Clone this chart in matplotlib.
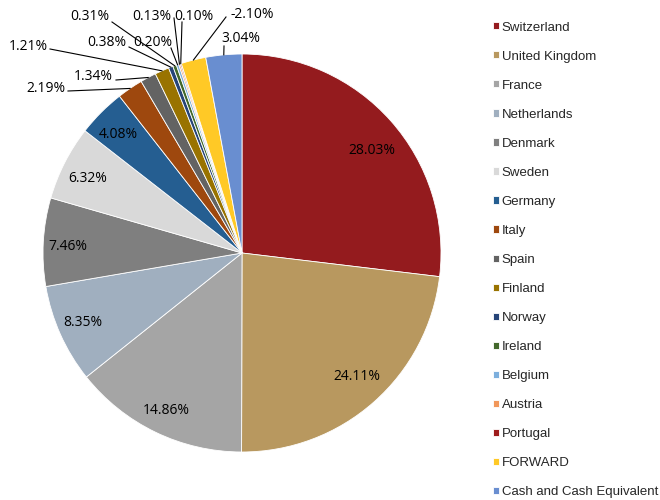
import numpy as np
import matplotlib.pyplot as plt

countries = ['Switzerland', 'United Kingdom', 'France', 'Netherlands', 'Denmark',
             'Sweden', 'Germany', 'Italy', 'Spain', 'Finland', 'Norway', 'Ireland',
             'Belgium', 'Austria', 'Portugal', 'FORWARD', 'Cash and Cash Equivalent']
weights = [28.03, 24.11, 14.86, 8.35, 7.46, 6.32, 4.08, 2.19, 1.34, 1.21,
           0.38, 0.31, 0.20, 0.13, 0.10, -2.10, 3.04]
colors = ['#941B1E', '#B8985F', '#A5A5A5', '#A0AFBF', '#7F7F7F', '#D9D9D9',
          '#255E91', '#9E480E', '#636363', '#997300', '#264478', '#43682B',
          '#7CAFDD', '#F1975A', '#9E1C1C', '#FFC926', '#698ED0']

# where excel put the labels (pixels from top-left), leader start for the small ones
label_pos = [(372, 151), (357, 376), (166, 411), (83, 322), (68, 247), (88, 179),
             (118, 134), (46, 89), (93, 77), (28, 46), (107, 43), (90, 17),
             (153, 43), (152, 17), (194, 16), (252, 14), (241, 38)]
leader_from = {7: (68, 91), 8: (116, 80), 9: (50, 49), 10: (129, 47), 11: (112, 22),
               12: (171, 48), 13: (174, 18), 14: (182, 22), 15: (226, 17), 16: (224, 46)}

W, H = 660, 500
cx, cy, R = 242, 500 - 253, 199

fig = plt.figure(figsize=(6.6, 5), dpi=100)
ax = fig.add_axes([0, 0, 1, 1])

wedges, _ = ax.pie(np.abs(weights), colors=colors, startangle=90, counterclock=False,
                   radius=R, center=(cx, cy),
                   wedgeprops=dict(edgecolor='white', linewidth=0.6))
ax.set_xlim(0, W)
ax.set_ylim(0, H)
ax.set_aspect('equal')
ax.axis('off')

for i, (w, val) in enumerate(zip(wedges, weights)):
    tx, ty = label_pos[i]
    ax.text(tx, H - ty, f'{val:.2f}%', ha='center', va='center',
            fontsize=10, family='Open Sans', color='black')
    if i in leader_from:
        mid = np.deg2rad((w.theta1 + w.theta2) / 2)
        ex, ey = cx + R * np.cos(mid), cy + R * np.sin(mid)
        lx, ly = leader_from[i]
        ax.plot([lx, ex], [H - ly, ey], color='black', lw=0.8)

ax.legend(wedges, countries, loc='upper left', bbox_to_anchor=(486 / W, 1 - 15 / H),
          bbox_transform=fig.transFigure, frameon=False, borderpad=0,
          handlelength=0.45, handleheight=0.45, handletextpad=0.25,
          labelspacing=1.29, prop=dict(family='Liberation Sans', size=9.5),
          labelcolor='#262626')

fig.savefig('out.png', dpi=100)
